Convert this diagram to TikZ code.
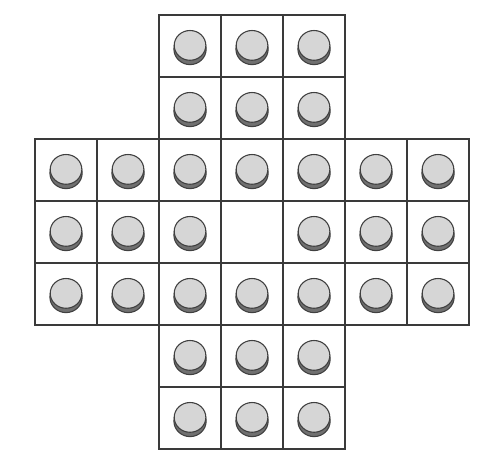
\documentclass[tikz,border=0pt]{standalone}
\usetikzlibrary{positioning}
\definecolor{GridLine}{HTML}{3A3A3A}
\definecolor{PegTop}{HTML}{D6D6D6}
\definecolor{PegSide}{HTML}{707070}
\definecolor{PegRim}{HTML}{404040}

\begin{document}
\begin{tikzpicture}[
            x=1cm, y=1cm,
            cell/.style = {rectangle, draw=GridLine, line width=0.7pt, minimum size=1cm, inner sep=0pt, outer sep=0pt},
            pegside/.style = {fill=PegSide, draw=PegRim, line width=0.5pt},
            pegtop/.style = {fill=PegTop, draw=PegRim, line width=0.5pt}
        ]
            \useasboundingbox (0,0) rectangle (7.887,7.452);
            % cross-shaped board, one peg per hole except the middle one
            \foreach \r in {1,...,7} {
                \foreach \c in {1,...,7} {
                    \pgfmathtruncatemacro{\inboard}{((\c>2) && (\c<6)) || ((\r>2) && (\r<6))}
                    \pgfmathtruncatemacro{\haspeg}{(\inboard==1) && !((\r==4) && (\c==4))}
                    \ifnum\inboard=1
                        \node [cell] (cell-\r-\c) at (0.065+\c, 7.71-\r) {};
                    \fi
                    \ifnum\haspeg=1
                        \begin{scope}[shift={(cell-\r-\c.center)}]
                            \draw [pegside] (0,-0.05) ellipse [x radius=0.26, y radius=0.25];
                            \draw [pegtop] (0,0.01) ellipse [x radius=0.255, y radius=0.24];
                        \end{scope}
                    \fi
                }
            }
        \end{tikzpicture}
\end{document}
